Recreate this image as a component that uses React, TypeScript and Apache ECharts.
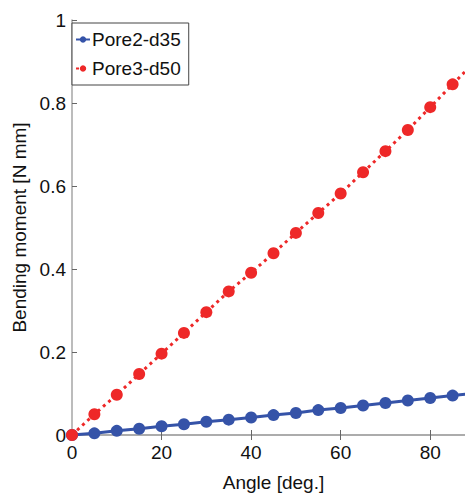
import React, { useEffect, useRef } from "react";
import * as echarts from "echarts";

const angles = [0, 5, 10, 15, 20, 25, 30, 35, 40, 45, 50, 55, 60, 65, 70, 75, 80, 85, 90];
const pore2d35 = [0, 0.004, 0.01, 0.015, 0.021, 0.026, 0.032, 0.037, 0.042, 0.048, 0.053, 0.06, 0.065, 0.071, 0.077, 0.083, 0.089, 0.095, 0.101];
const pore3d50 = [0, 0.05, 0.097, 0.147, 0.196, 0.246, 0.296, 0.346, 0.391, 0.438, 0.487, 0.535, 0.582, 0.633, 0.684, 0.735, 0.79, 0.845, 0.9];
const xTicks = [0, 20, 40, 60, 80];
const yTicks = [0, 0.2, 0.4, 0.6, 0.8, 1];

const FONT = "Liberation Sans, Arial, Helvetica, sans-serif";
const AXIS = "#a6a6a6";

export default function App() {
  const ref = useRef<HTMLDivElement>(null);
  useEffect(() => {
    if (!ref.current) return;
    const chart = echarts.init(ref.current, undefined, { renderer: "svg" });
    const toPairs = (ys: number[]) => angles.map((a, i) => [a, ys[i]]);
    chart.setOption({
      animation: false,
      textStyle: { fontFamily: FONT },
      grid: { left: 72, top: 20, right: 1, bottom: 53.5, containLabel: false },
      legend: {
        orient: "vertical",
        left: 72,
        top: 23,
        backgroundColor: "#fff",
        borderColor: "#444",
        borderWidth: 1,
        borderRadius: 0,
        padding: [7, 8, 7, 3],
        itemGap: 10,
        itemWidth: 14,
        itemHeight: 8,
        textStyle: { fontSize: 19, color: "#111", fontFamily: FONT, padding: [0, 0, 0, -3] },
        data: ["Pore2-d35", "Pore3-d50"],
      },
      xAxis: [
        {
          type: "value",
          min: 0,
          max: 90,
          interval: 20,
          name: "Angle [deg.]",
          nameLocation: "middle",
          nameGap: 38,
          nameTextStyle: { fontSize: 19, color: "#111", fontFamily: FONT },
          axisLine: { show: true, onZero: false, lineStyle: { color: AXIS, width: 1.5 } },
          axisTick: { show: true, inside: true, length: 5, lineStyle: { color: "#666" } },
          axisLabel: {
            fontSize: 19,
            color: "#111",
            margin: 8,
            customValues: xTicks,
          },
          splitLine: { show: false },
        },
        {
          type: "value",
          position: "top",
          min: 0,
          max: 90,
          interval: 20,
          axisLine: { show: true, lineStyle: { color: AXIS, width: 1.5 } },
          axisTick: { show: true, inside: true, length: 5, lineStyle: { color: "#666" } },
          axisLabel: { show: false },
          splitLine: { show: false },
        },
      ],
      yAxis: [
        {
          type: "value",
          min: 0,
          max: 1,
          interval: 0.2,
          name: "Bending moment [N mm]",
          nameLocation: "middle",
          nameGap: 40,
          nameTextStyle: { fontSize: 19, color: "#111", fontFamily: FONT },
          axisLine: { show: true, onZero: false, lineStyle: { color: AXIS, width: 1.5 } },
          axisTick: { show: true, inside: true, length: 5, lineStyle: { color: "#666" } },
          axisLabel: {
            fontSize: 19,
            color: "#111",
            margin: 6,
            customValues: yTicks,
            formatter: (v: number) => String(Math.round(v * 10) / 10),
          },
          splitLine: { show: false },
        },
      ],
      series: [
        {
          name: "Pore2-d35",
          type: "line",
          data: toPairs(pore2d35),
          symbol: "circle",
          symbolSize: 12,
          itemStyle: { color: "#3553a8" },
          lineStyle: { color: "#3553a8", width: 3 },
          z: 2,
        },
        {
          name: "Pore3-d50",
          type: "line",
          data: toPairs(pore3d50),
          symbol: "circle",
          symbolSize: 12,
          itemStyle: { color: "#ee2828" },
          lineStyle: { color: "#ee2828", width: 3, type: [3, 4] },
          z: 3,
        },
      ],
    });
    return () => chart.dispose();
  }, []);
  return (
    <div style={{ width: 465, height: 497, position: "absolute", left: 0, top: 0, overflow: "hidden" }}>
      <div ref={ref} style={{ width: 476, height: 497 }} />
    </div>
  );
}
